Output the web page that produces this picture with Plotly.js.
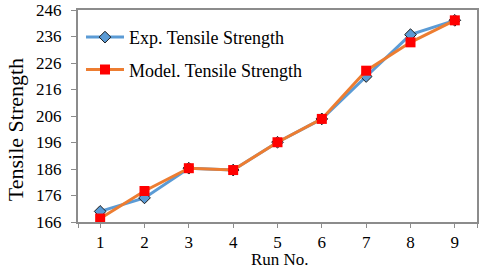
<!DOCTYPE html>
<html>
<head>
<meta charset="utf-8">
<script src="https://cdn.plot.ly/plotly-3.0.1.min.js"></script>
<style>html,body{margin:0;padding:0;background:#fff;}#chart{width:480px;height:269px;}</style>
</head>
<body>
<div id="chart"></div>
<script>
const runs = [1, 2, 3, 4, 5, 6, 7, 8, 9];
const expStrength = [170.0, 175.1, 186.3, 185.6, 196.1, 204.9, 220.9, 236.7, 242.1];
const modelStrength = [167.3, 177.7, 186.3, 185.6, 196.1, 204.9, 223.1, 233.8, 242.1];
const seriesNames = ['Exp. Tensile Strength', 'Model. Tensile Strength'];
const yTicks = [166, 176, 186, 196, 206, 216, 226, 236, 246];
const xTickVals = [0.5].concat(runs, [9.5]);
const xTickText = [''].concat(runs.map(String), ['']);

const font = '"Liberation Serif", "Times New Roman", Times, serif';
const axisGray = '#8c8c8c';

const traces = [
  {
    x: runs, y: expStrength, name: seriesNames[0], type: 'scatter', mode: 'lines+markers',
    legendgroup: 'a',
    line: {color: '#5b9bd5', width: 3},
    marker: {symbol: 'diamond', size: 9, color: '#5b9bd5', line: {color: '#1a1a1a', width: 1}}
  },
  {
    x: runs, y: modelStrength, name: seriesNames[1], type: 'scatter', mode: 'lines+markers',
    legendgroup: 'b',
    line: {color: '#ed7d31', width: 3},
    marker: {symbol: 'square', size: 10, color: '#ff0000'}
  }
];

const layout = {
  width: 480, height: 269,
  margin: {l: 78, r: 3, t: 10, b: 47},
  paper_bgcolor: '#fff', plot_bgcolor: '#fff',
  font: {family: font, size: 17, color: '#000'},
  showlegend: true,
  legend: {
    x: 0.0075, y: 0.958, xanchor: 'left', yanchor: 'top',
    bgcolor: 'rgba(0,0,0,0)', traceorder: 'grouped', tracegroupgap: 6,
    itemwidth: 38,
    font: {family: font, size: 18, color: '#000'}
  },
  xaxis: {
    range: [0.5, 9.5], tickmode: 'array', tickvals: xTickVals, ticktext: xTickText,
    showgrid: false, zeroline: false,
    showline: true, mirror: true, linecolor: axisGray, linewidth: 2,
    ticks: 'outside', ticklen: 4, tickcolor: axisGray, tickwidth: 1,
    tickfont: {family: font, size: 17}
  },
  yaxis: {
    range: [166, 246], tickmode: 'array', tickvals: yTicks,
    showgrid: false, zeroline: false,
    showline: true, mirror: true, linecolor: axisGray, linewidth: 2,
    ticks: 'outside', ticklen: 5, tickcolor: axisGray, tickwidth: 1,
    tickfont: {family: font, size: 17},
    ticklabelstandoff: 6
  },
  annotations: [
    {
      text: 'Tensile Strength', textangle: -90, showarrow: false,
      xref: 'paper', yref: 'paper', x: -0.155, y: 0.434, xanchor: 'center', yanchor: 'middle',
      font: {family: font, size: 22, color: '#000'}
    },
    {
      text: 'Run No.', showarrow: false,
      xref: 'paper', yref: 'paper', x: 0.506, y: -0.178, xanchor: 'center', yanchor: 'middle',
      font: {family: font, size: 17, color: '#000'}
    }
  ]
};

Plotly.newPlot('chart', traces, layout, {staticPlot: true, displayModeBar: false});
</script>
</body>
</html>
